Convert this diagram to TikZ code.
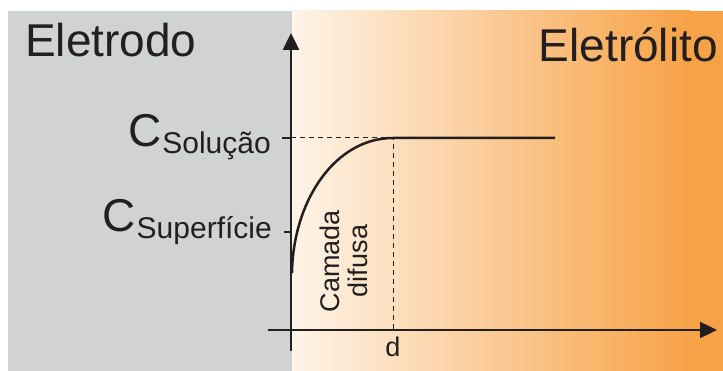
\documentclass[tikz,border=0pt]{standalone}
\usepackage{fontspec}
\setmainfont{Liberation Sans}
\usetikzlibrary{arrows.meta,positioning}
\definecolor{ELGray}{HTML}{D1D2D4}
\definecolor{ELCream}{HTML}{FEF4E8}
\definecolor{ELOrange}{HTML}{F7A246}
\definecolor{ELInk}{HTML}{231F20}
\tikzset{
  axis/.style={-{Triangle[length=17pt,width=16pt]},ELInk,line width=2.4pt},
  guide/.style={ELInk,line width=1pt,dash pattern=on 5pt off 4pt},
  tickmark/.style={ELInk,line width=2pt},
  profile/.style={ELInk,line width=2.5pt},
  region/.style={text=ELInk,font=\fontsize{46}{50}\selectfont,inner sep=0pt},
  conc/.style={text=ELInk,inner sep=0pt},
  small/.style={text=ELInk,font=\fontsize{27}{28}\selectfont,inner sep=0pt,align=center},
}
\newcommand{\conclabel}[1]{{\fontsize{46}{46}\selectfont C}\hspace{1pt}{\fontsize{30}{30}\selectfont\raisebox{-7pt}{#1}}}

\begin{document}
\begin{tikzpicture}[x=1pt,y=1pt]
  \useasboundingbox (0,0) rectangle (723,371);
  % electrode and electrolyte
  \fill[ELGray] (8,0) rectangle (292,360);
  \shade[left color=ELCream,right color=ELOrange] (292,0) rectangle (690,360);
  \fill[ELOrange] (690,0) rectangle (723,360);

  \coordinate (ybot) at (291,20);
  \coordinate (ytop) at (291,338);
  \coordinate (xleft) at (268,41);
  \coordinate (xright) at (717,41);
  \coordinate (csol) at (291,233);
  \coordinate (csup) at (291,139);
  \coordinate (dtop) at (393,233);
  \coordinate (dfoot) at (393,41);

  \draw[guide] (csol)--(dtop)--(dfoot);
  \draw[axis] (ybot)--(ytop);
  \draw[axis] (xleft)--(xright);
  \draw[tickmark] (csol)--++(-9,0);
  \draw[tickmark] (csup)--++(-7,0);
  \draw[profile] (292,98) .. controls (293,170) and (335,233) .. (dtop) -- (555,233);

  \node[region,anchor=base west] (eletrodo) at (25,314) {Eletrodo};
  \node[region,anchor=base east] (eletrolito) at (718,309) {Eletrólito};
  \node[conc,anchor=base east] (lsol) at (271,224) {\conclabel{Solução}};
  \node[conc,anchor=base east] (lsup) at (272,139) {\conclabel{Superfície}};
  \node[small,rotate=90] (camada) at (344,110) {Camada\\difusa};
  \node[small,below=7pt of dfoot] (dlabel) {d};
\end{tikzpicture}
\end{document}
